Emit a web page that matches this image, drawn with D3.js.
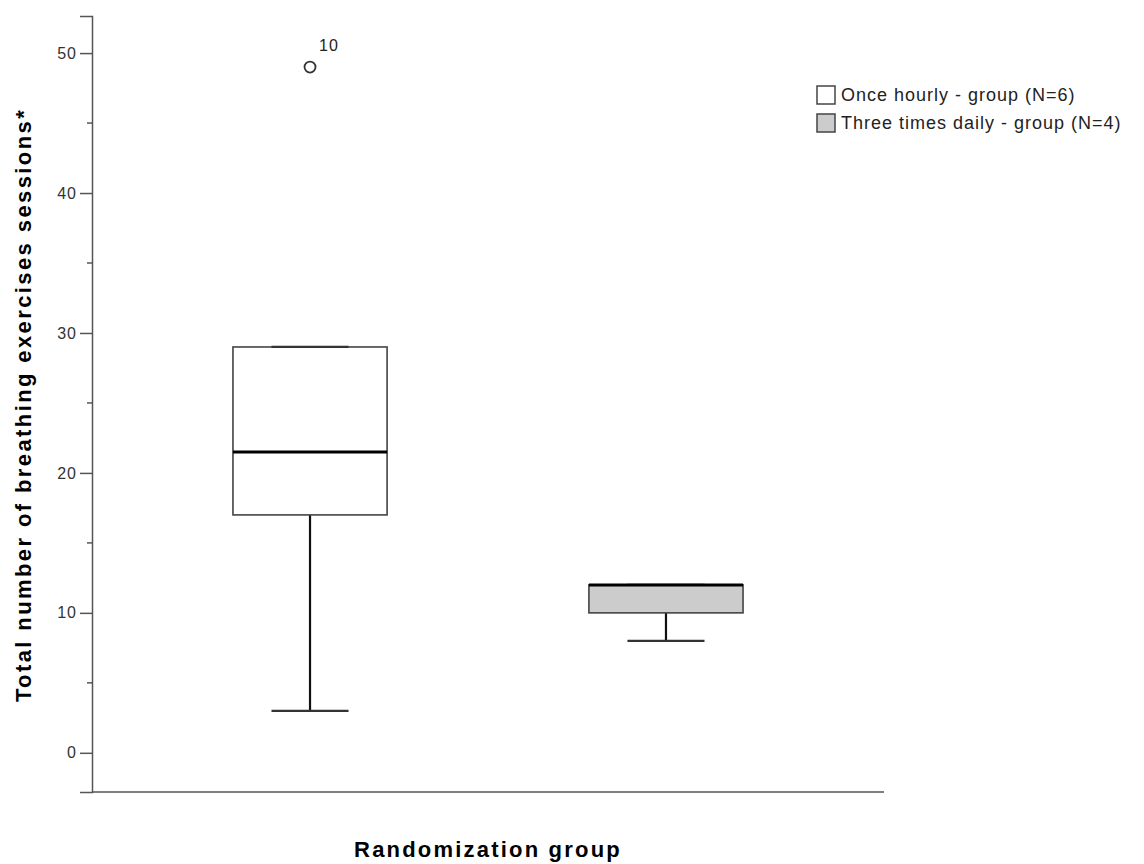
<!DOCTYPE html>
<html>
<head>
    <title>Breathing exercises boxplot</title>
    <script src="https://d3js.org/d3.v7.min.js"></script>
    <style>
        body { margin: 0; background: #fff; }
        text { font-family: Arial, "Liberation Sans", sans-serif; }
    </style>
</head>
<body>
    <svg width="1144" height="864"></svg>

    <script>
    // values
    const groups = ["Once hourly - group (N=6)", "Three times daily - group (N=4)"];
    const whiskerLow = [3, 8];
    const q1 = [17, 10];
    const medians = [21.5, 12];
    const q3 = [29, 12];
    const whiskerHigh = [29, 12];
    const outlierGroup = [0];
    const outlierValue = [49];
    const outlierLabel = ["10"];
    const yTicks = [0, 10, 20, 30, 40, 50];
    const yMinorTicks = [5, 15, 25, 35, 45];

    const svg = d3.select("svg");

    const y = d3.scaleLinear().domain([-2.8, 52.65]).range([792, 16]);
    const x = d3.scaleBand().domain(groups).range([92, 884])
        .paddingInner(0.567).paddingOuter(0.396);
    const fill = d3.scaleOrdinal().domain(groups).range(["#ffffff", "#cccccc"]);

    const axisColor = "#555";

    // y axis
    const yAxis = svg.append("g").attr("transform", "translate(92,0)")
        .call(d3.axisLeft(y).tickValues(yTicks).tickSize(12).tickPadding(3));
    yAxis.select(".domain").attr("stroke", axisColor).attr("stroke-width", 1.5);
    yAxis.selectAll(".tick line").attr("stroke", axisColor).attr("stroke-width", 1.5);
    yAxis.selectAll(".tick text")
        .attr("fill", "#333")
        .style("font-size", "16px")
        .style("letter-spacing", "1px");

    svg.append("g").selectAll("line")
        .data(yMinorTicks)
        .enter().append("line")
        .attr("x1", 87).attr("x2", 92)
        .attr("y1", d => y(d)).attr("y2", d => y(d))
        .attr("stroke", axisColor).attr("stroke-width", 1.5);

    // x axis (no labels)
    svg.append("line")
        .attr("x1", 92).attr("x2", 884)
        .attr("y1", 792).attr("y2", 792)
        .attr("stroke", axisColor).attr("stroke-width", 1.5);

    // boxes
    const bw = x.bandwidth();
    const boxes = svg.append("g").selectAll("g")
        .data(groups)
        .enter().append("g");

    // lower and upper whisker stems
    boxes.append("line")
        .attr("x1", d => x(d) + bw / 2).attr("x2", d => x(d) + bw / 2)
        .attr("y1", (d, i) => y(whiskerLow[i])).attr("y2", (d, i) => y(q1[i]))
        .attr("stroke", "#111").attr("stroke-width", 2.2);
    boxes.append("line")
        .attr("x1", d => x(d) + bw / 2).attr("x2", d => x(d) + bw / 2)
        .attr("y1", (d, i) => y(whiskerHigh[i])).attr("y2", (d, i) => y(q3[i]))
        .attr("stroke", "#111").attr("stroke-width", 2.2);

    boxes.append("rect")
        .attr("x", d => x(d))
        .attr("y", (d, i) => y(q3[i]))
        .attr("width", bw)
        .attr("height", (d, i) => y(q1[i]) - y(q3[i]))
        .attr("fill", d => fill(d))
        .attr("stroke", "#444").attr("stroke-width", 1.6);

    // whisker caps
    boxes.append("line")
        .attr("x1", d => x(d) + bw / 4).attr("x2", d => x(d) + bw * 3 / 4)
        .attr("y1", (d, i) => y(whiskerLow[i])).attr("y2", (d, i) => y(whiskerLow[i]))
        .attr("stroke", "#333").attr("stroke-width", 2.2);
    boxes.append("line")
        .attr("x1", d => x(d) + bw / 4).attr("x2", d => x(d) + bw * 3 / 4)
        .attr("y1", (d, i) => y(whiskerHigh[i])).attr("y2", (d, i) => y(whiskerHigh[i]))
        .attr("stroke", "#333").attr("stroke-width", 2.2);

    // medians
    boxes.append("line")
        .attr("x1", d => x(d)).attr("x2", d => x(d) + bw)
        .attr("y1", (d, i) => y(medians[i])).attr("y2", (d, i) => y(medians[i]))
        .attr("stroke", "#000").attr("stroke-width", 3);

    // outliers
    outlierGroup.forEach((g, i) => {
        const cx = x(groups[g]) + bw / 2;
        svg.append("circle")
            .attr("cx", cx).attr("cy", y(outlierValue[i]))
            .attr("r", 5.5)
            .attr("fill", "none").attr("stroke", "#333").attr("stroke-width", 1.8);
        svg.append("text")
            .attr("x", cx + 9).attr("y", y(outlierValue[i]) - 16)
            .attr("fill", "#222")
            .style("font-size", "16px")
            .style("letter-spacing", "1px")
            .text(outlierLabel[i]);
    });

    // legend
    const legend = svg.append("g").attr("transform", "translate(817,86)");
    const rows = legend.selectAll("g").data(groups).enter().append("g")
        .attr("transform", (d, i) => "translate(0," + (i * 28) + ")");
    rows.append("rect")
        .attr("width", 18).attr("height", 18)
        .attr("fill", d => fill(d))
        .attr("stroke", "#444").attr("stroke-width", 1.5);
    rows.append("text")
        .attr("x", 24).attr("y", 15)
        .attr("fill", "#222")
        .style("font-size", "18px")
        .style("letter-spacing", "1px")
        .text(d => d);

    // axis titles
    svg.append("text")
        .attr("transform", "translate(31,405) rotate(-90)")
        .attr("text-anchor", "middle")
        .style("font-size", "22px")
        .style("font-weight", "bold")
        .style("letter-spacing", "2.4px")
        .text("Total number of breathing exercises sessions*");

    svg.append("text")
        .attr("x", 488).attr("y", 857)
        .attr("text-anchor", "middle")
        .style("font-size", "22px")
        .style("font-weight", "bold")
        .style("letter-spacing", "2.2px")
        .text("Randomization group");
    </script>
</body>
</html>
